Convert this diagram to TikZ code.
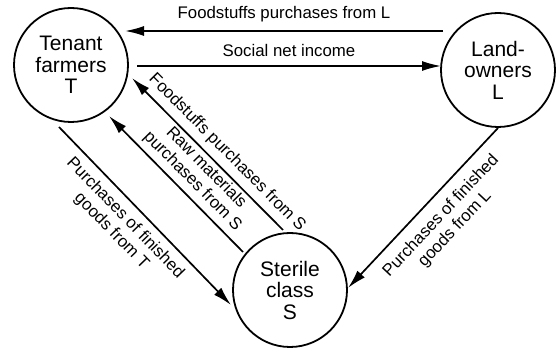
\documentclass[tikz,border=0pt]{standalone}
\usepackage{fontspec}
\setmainfont{Liberation Sans}
\usetikzlibrary{arrows.meta,positioning}
\tikzset{
     sector/.style={draw, circle, line width=1.8pt, minimum size=114pt, inner sep=0pt,
                    align=center, font=\fontsize{21}{21.5}\selectfont},
     flow/.style={->, line width=1.7pt},
     flowlabel/.style={font=\fontsize{16.8}{19}\selectfont, inner sep=2pt, align=center},
}
\tikzset{>={Latex[length=19pt,width=10pt]}}

\begin{document}
\begin{tikzpicture}[x=1pt,y=1pt]
		\useasboundingbox (0,0) rectangle (557,348);

		\node[sector] (T) at (71,283) {Tenant\\farmers\\T};
		\node[sector] (L) at (498,278) {Land-\\owners\\L};
		\node[sector] (S) at (290,58) {Sterile\\class\\S};

		% between tenants and landowners
		\draw[flow] ([shift={(-55,39)}]L.center) -- ([shift={(54,34)}]T.center)
			node[flowlabel, midway, above=6pt] {Foodstuffs purchases from L};
		\draw[flow] ([shift={(66,-1)}]T.center) -- ([shift={(-57,4)}]L.center)
			node[flowlabel, midway, above=6pt] {Social net income};

		% sterile class to tenants
		\draw[flow] ([shift={(-7,60)}]S.center) -- ([shift={(61,-13)}]T.center)
			node[flowlabel, pos=0.44, sloped, above=4pt] {Foodstuffs purchases from S};
		\draw[flow] ([shift={(-47,38)}]S.center) -- ([shift={(38,-51)}]T.center)
			node[flowlabel, pos=0.45, sloped, above=3pt] {Raw materials\\purchases from S};

		% purchases from the sterile class
		\draw[flow] ([shift={(-12,-62)}]T.center) -- ([shift={(-59,-15)}]S.center)
			node[flowlabel, pos=0.45, sloped, below=5pt] {Purchases of finished\\goods from T};
		\draw[flow] ([shift={(0,-58)}]L.center) -- ([shift={(58,2)}]S.center)
			node[flowlabel, pos=0.47, sloped, below=8pt] {Purchases of finished\\goods from L};
\end{tikzpicture}
\end{document}
